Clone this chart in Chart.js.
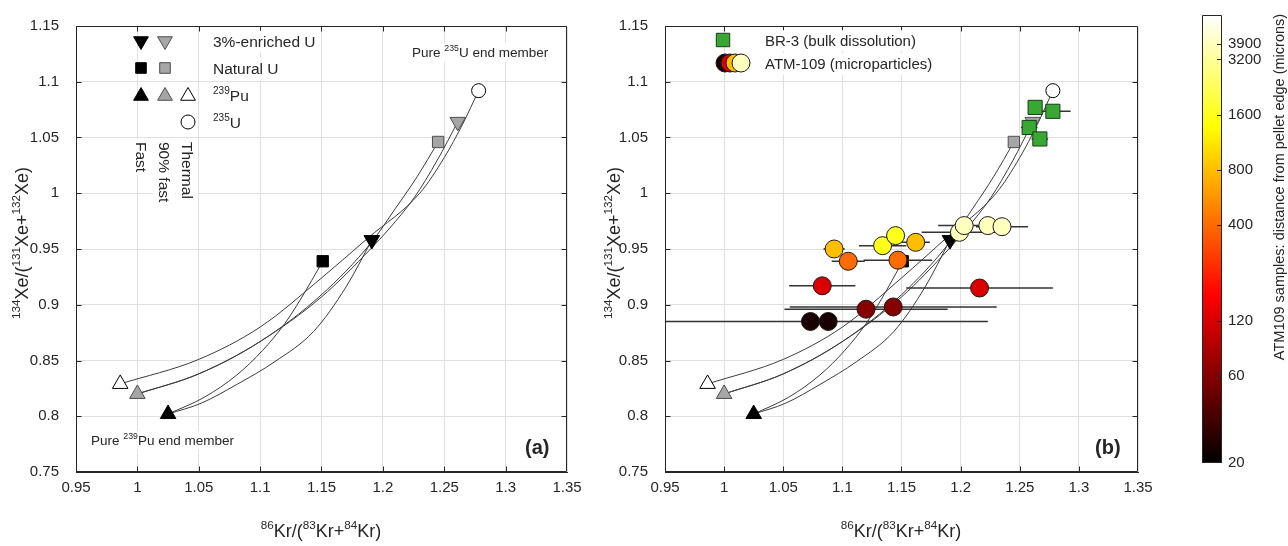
<!DOCTYPE html>
<html lang="en">
<head>
    <meta charset="UTF-8">
    <title>Kr / Xe mixing curves</title>
    <script src="https://cdn.jsdelivr.net/npm/chart.js"></script>
    <style>
        body {
            margin: 0;
            background: #ffffff;
            width: 1288px;
            height: 546px;
            overflow: hidden;
            position: relative;
        }

        .panel {
            position: absolute;
            top: 0;
            height: 546px;
        }
    </style>
</head>
<body>
    <div class="panel" style="left:0;width:600px"><canvas id="chartA"></canvas></div>
    <div class="panel" style="left:600px;width:590px"><canvas id="chartB"></canvas></div>
    <div class="panel" style="left:1180px;width:108px"><canvas id="chartC"></canvas></div>

    <script>
        // axis ticks
        const xTicks = [0.95, 1, 1.05, 1.1, 1.15, 1.2, 1.25, 1.3, 1.35];
        const yTicks = [0.75, 0.8, 0.85, 0.9, 0.95, 1, 1.05, 1.1, 1.15];
        const cbTicks = [20, 60, 120, 400, 800, 1600, 3200, 3900];
        const cbMin = 20;
        const cbMax = 5600;

        // end members (fast, 90% fast, thermal)
        const pu239X = [1.025, 1.000, 0.986];
        const pu239Y = [0.802, 0.820, 0.829];
        const natUX = [1.151, 1.245];
        const natUY = [0.939, 1.046];
        const u3X = [1.191, 1.261];
        const u3Y = [0.958, 1.064];
        const u235X = [1.278];
        const u235Y = [1.092];

        // mixing curves
        const curveThX = [0.986, 1.05, 1.10, 1.15, 1.188, 1.23, 1.25, 1.265, 1.278];
        const curveThY = [0.829, 0.851, 0.880, 0.924, 0.960, 1.000, 1.032, 1.062, 1.092];
        const curve90NatX = [1.000, 1.05, 1.10, 1.15, 1.19, 1.21, 1.228, 1.245];
        const curve90NatY = [0.820, 0.838, 0.867, 0.909, 0.955, 0.986, 1.015, 1.046];
        const curve903X = [1.000, 1.05, 1.10, 1.15, 1.19, 1.205, 1.2255, 1.244, 1.261];
        const curve903Y = [0.820, 0.838, 0.867, 0.907, 0.950, 0.968, 0.996, 1.029, 1.064];
        const curveFastNatX = [1.025, 1.0545, 1.081, 1.102, 1.12, 1.133, 1.151];
        const curveFastNatY = [0.802, 0.817, 0.837, 0.859, 0.883, 0.905, 0.939];
        const curveFast3X = [1.025, 1.052, 1.081, 1.112, 1.1435, 1.17, 1.191];
        const curveFast3Y = [0.802, 0.8117, 0.8285, 0.849, 0.876, 0.916, 0.958];

        // BR-3 bulk dissolution
        const br3X = [1.263, 1.278, 1.258, 1.267];
        const br3Y = [1.077, 1.0735, 1.059, 1.0487];
        const br3Err = [0.004, 0.015, 0.007, 0.007];

        // ATM-109 microparticles
        const atmX = [1.199, 1.203, 1.223, 1.235, 1.134, 1.145, 1.093, 1.162, 1.105, 1.147, 1.083, 1.216, 1.120, 1.143, 1.073, 1.088];
        const atmY = [0.965, 0.971, 0.971, 0.970, 0.953, 0.962, 0.950, 0.956, 0.939, 0.940, 0.917, 0.915, 0.896, 0.898, 0.885, 0.885];
        const atmErr = [0.032, 0.022, 0.005, 0.022, 0.020, 0.008, 0.009, 0.012, 0.014, 0.029, 0.028, 0.062, 0.069, 0.0875, 0.150, 0.0713];
        const atmDist = [3900, 3900, 3900, 3900, 1600, 1600, 800, 800, 400, 400, 120, 120, 60, 60, 25, 25];

        const FONT = "'Liberation Sans', Arial, Helvetica, sans-serif";
        const INK = '#262626';
        const GRAY = '#a6a6a6';
        const GRAY_EDGE = '#4d4d4d';
        const GREEN = '#38a832';
        const TRI_R = 9;
        const SQ_R = 8;

        const pts = (xs, ys) => xs.map((x, i) => ({ x, y: ys[i] }));

        // matlab "hot" colormap
        function hot(f) {
            f = Math.max(0, Math.min(1, f));
            const r = Math.min(1, f / 0.375);
            const g = Math.max(0, Math.min(1, (f - 0.375) / 0.375));
            const b = Math.max(0, (f - 0.75) / 0.25);
            return `rgb(${Math.round(r * 255)},${Math.round(g * 255)},${Math.round(b * 255)})`;
        }
        const distColor = d => hot(Math.log(d / cbMin) / Math.log(cbMax / cbMin));

        // text with superscripts; parts = [[text, isSup], ...], y is the baseline
        function rich(ctx, parts, x, y, size, align, angle, bg) {
            const sup = size * 0.65;
            ctx.save();
            ctx.translate(x, y);
            if (angle) ctx.rotate(angle);
            let w = 0;
            parts.forEach(p => {
                ctx.font = (p[1] ? sup : size) + 'px ' + FONT;
                w += ctx.measureText(p[0]).width;
            });
            let cx = align === 'center' ? -w / 2 : 0;
            if (bg) {
                ctx.fillStyle = '#ffffff';
                ctx.fillRect(cx - 3, -size * 1.05, w + 6, size * 1.4);
            }
            ctx.textBaseline = 'alphabetic';
            ctx.textAlign = 'left';
            ctx.fillStyle = INK;
            parts.forEach(p => {
                ctx.font = (p[1] ? sup : size) + 'px ' + FONT;
                ctx.fillText(p[0], cx, p[1] ? -size * 0.42 : 0);
                cx += ctx.measureText(p[0]).width;
            });
            ctx.restore();
        }

        function mark(ctx, style, x, y, r, fill, stroke) {
            ctx.save();
            ctx.beginPath();
            ctx.fillStyle = fill;
            ctx.strokeStyle = stroke;
            ctx.lineWidth = 1;
            if (style === 'circle') {
                ctx.arc(x, y, r, 0, Math.PI * 2);
            } else if (style === 'rect') {
                const s = r * Math.SQRT1_2;
                ctx.rect(x - s, y - s, 2 * s, 2 * s);
            } else {
                const dir = style === 'tridown' ? -1 : 1;
                for (let k = 0; k < 3; k++) {
                    const a = k * 2 * Math.PI / 3;
                    const px = x + Math.sin(a) * r;
                    const py = y - dir * Math.cos(a) * r;
                    if (k) ctx.lineTo(px, py); else ctx.moveTo(px, py);
                }
                ctx.closePath();
            }
            ctx.fill();
            ctx.stroke();
            ctx.restore();
        }

        function axis(ticks, min, max, isX, fit) {
            return {
                type: 'linear',
                min, max,
                afterBuildTicks: a => { a.ticks = ticks.map(v => ({ value: v })); },
                afterFit: a => { if (isX) a.height = fit; else a.width = fit; },
                grid: { color: '#e0e0e0', drawTicks: false },
                border: { color: INK, width: 1 },
                ticks: {
                    color: INK,
                    font: { family: FONT, size: 15 },
                    padding: isX ? 7 : 17,
                    maxRotation: 0,
                    autoSkip: false,
                    callback: v => String(v)
                }
            };
        }

        function baseSets() {
            const curve = (xs, ys) => ({
                data: pts(xs, ys), showLine: true, borderColor: '#3c3c3c', borderWidth: 1,
                pointRadius: 0, cubicInterpolationMode: 'monotone', fill: false, order: 4
            });
            return [
                curve(curveThX, curveThY),
                curve(curve90NatX, curve90NatY),
                curve(curve903X, curve903Y),
                curve(curveFastNatX, curveFastNatY),
                curve(curveFast3X, curveFast3Y),
                {
                    label: '239Pu', data: pts(pu239X, pu239Y), pointStyle: 'triangle', pointRadius: TRI_R,
                    pointBackgroundColor: ['#000', GRAY, '#fff'], pointBorderColor: ['#000', GRAY_EDGE, '#000'],
                    pointBorderWidth: 1, order: 3
                },
                {
                    label: 'Natural U', data: pts(natUX, natUY), pointStyle: 'rect', pointRadius: SQ_R,
                    pointBackgroundColor: ['#000', GRAY], pointBorderColor: ['#000', GRAY_EDGE],
                    pointBorderWidth: 1, order: 3
                },
                {
                    label: '3%-enriched U', data: pts(u3X, u3Y), pointStyle: 'triangle', pointRotation: 180, pointRadius: TRI_R,
                    pointBackgroundColor: ['#000', GRAY], pointBorderColor: ['#000', GRAY_EDGE],
                    pointBorderWidth: 1, order: 3
                },
                {
                    label: '235U', data: pts(u235X, u235Y), pointStyle: 'circle', pointRadius: 7,
                    pointBackgroundColor: '#fff', pointBorderColor: '#000', pointBorderWidth: 1, order: 3
                }
            ];
        }

        // box around the plot with inward ticks
        const frame = {
            id: 'frame',
            afterDatasetsDraw(chart) {
                const { ctx, chartArea: a, scales } = chart;
                const l = Math.round(a.left) + 0.5, r = Math.round(a.right) - 0.5;
                const t = Math.round(a.top) + 0.5, b = Math.round(a.bottom) - 0.5;
                ctx.save();
                ctx.strokeStyle = INK;
                ctx.lineWidth = 1;
                ctx.beginPath();
                ctx.rect(l, t, r - l, b - t);
                xTicks.slice(1, -1).forEach(v => {
                    const p = Math.round(scales.x.getPixelForValue(v)) + 0.5;
                    ctx.moveTo(p, b); ctx.lineTo(p, b - 5);
                    ctx.moveTo(p, t); ctx.lineTo(p, t + 5);
                });
                yTicks.slice(1, -1).forEach(v => {
                    const p = Math.round(scales.y.getPixelForValue(v)) + 0.5;
                    ctx.moveTo(l, p); ctx.lineTo(l + 5, p);
                    ctx.moveTo(r, p); ctx.lineTo(r - 5, p);
                });
                ctx.stroke();
                ctx.restore();
            }
        };

        // horizontal error bars drawn right before their own dataset
        const errorBars = {
            id: 'errorBars',
            beforeDatasetDraw(chart, args) {
                const ds = chart.data.datasets[args.index];
                if (!ds.xErr) return;
                const { ctx, chartArea: a, scales: { x, y } } = chart;
                ctx.save();
                ctx.beginPath();
                ctx.rect(a.left, a.top, a.right - a.left, a.bottom - a.top);
                ctx.clip();
                ctx.strokeStyle = '#333333';
                ctx.lineWidth = 1.5;
                ctx.beginPath();
                ds.data.forEach((p, i) => {
                    const py = y.getPixelForValue(p.y);
                    ctx.moveTo(x.getPixelForValue(p.x - ds.xErr[i]), py);
                    ctx.lineTo(x.getPixelForValue(p.x + ds.xErr[i]), py);
                });
                ctx.stroke();
                ctx.restore();
            }
        };

        const xTitle = [['86', 1], ['Kr/('], ['83', 1], ['Kr+'], ['84', 1], ['Kr)']];
        const yTitle = [['134', 1], ['Xe/('], ['131', 1], ['Xe+'], ['132', 1], ['Xe)']];

        const textA = {
            id: 'textA',
            afterDraw(chart) {
                const ctx = chart.ctx;
                mark(ctx, 'tridown', 141, 41, 8.5, '#000', '#000');
                mark(ctx, 'tridown', 165, 41, 8.5, GRAY, GRAY_EDGE);
                mark(ctx, 'rect', 141, 68, 7.5, '#000', '#000');
                mark(ctx, 'rect', 165, 68, 7.5, GRAY, GRAY_EDGE);
                mark(ctx, 'tri', 141, 96, 8.5, '#000', '#000');
                mark(ctx, 'tri', 165, 96, 8.5, GRAY, GRAY_EDGE);
                mark(ctx, 'tri', 188, 96, 8.5, '#fff', '#000');
                mark(ctx, 'circle', 188, 122, 7, '#fff', '#000');
                rich(ctx, [['3%-enriched U']], 213, 47, 15.5, 'left', 0, true);
                rich(ctx, [['Natural U']], 213, 74, 15.5, 'left', 0, true);
                rich(ctx, [['239', 1], ['Pu']], 213, 101, 15.5, 'left', 0, true);
                rich(ctx, [['235', 1], ['U']], 213, 128, 15.5, 'left', 0, true);
                rich(ctx, [['Fast']], 135.5, 142, 15.5, 'left', Math.PI / 2, true);
                rich(ctx, [['90% fast']], 158.5, 142, 15.5, 'left', Math.PI / 2, true);
                rich(ctx, [['Thermal']], 181.5, 142, 15.5, 'left', Math.PI / 2, true);

                rich(ctx, [['Pure '], ['235', 1], ['U end member']], 412, 57, 13.5, 'left', 0, true);
                rich(ctx, [['Pure '], ['239', 1], ['Pu end member']], 91, 445, 13.5, 'left', 0, true);

                ctx.save();
                ctx.font = 'bold 20px ' + FONT;
                ctx.fillStyle = INK;
                ctx.fillText('(a)', 525, 454);
                ctx.restore();

                rich(ctx, xTitle, 321, 537, 18, 'center');
                rich(ctx, yTitle, 28, 243, 18, 'center', -Math.PI / 2);
            }
        };

        const textB = {
            id: 'textB',
            afterDraw(chart) {
                const ctx = chart.ctx;
                mark(ctx, 'rect', 123, 40, 9.5, GREEN, '#1e3a1e');
                [25, 120, 800, 3900].forEach((d, i) => {
                    mark(ctx, 'circle', [125, 130, 135, 141][i], 63, 9, distColor(d), '#1a1a1a');
                });
                rich(ctx, [['BR-3 (bulk dissolution)']], 165, 46, 15, 'left', 0, true);
                rich(ctx, [['ATM-109 (microparticles)']], 165, 69, 15, 'left', 0, true);

                ctx.save();
                ctx.font = 'bold 20px ' + FONT;
                ctx.fillStyle = INK;
                ctx.fillText('(b)', 495, 454);
                ctx.restore();

                rich(ctx, xTitle, 301, 537, 18, 'center');
                rich(ctx, yTitle, 20, 243, 18, 'center', -Math.PI / 2);
            }
        };

        const commonOpts = (padRight, yWidth) => ({
            responsive: true,
            maintainAspectRatio: false,
            animation: false,
            events: [],
            layout: { padding: { left: 0, right: padRight, top: 15, bottom: 0 } },
            plugins: { legend: { display: false }, tooltip: { enabled: false } },
            scales: {
                x: axis(xTicks, 0.95, 1.35, true, 74),
                y: axis(yTicks, 0.75, 1.15, false, yWidth)
            }
        });

        new Chart(document.getElementById('chartA'), {
            type: 'scatter',
            data: { datasets: baseSets() },
            options: commonOpts(33, 76),
            plugins: [frame, textA]
        });

        const setsB = baseSets();
        setsB.push({
            label: 'ATM-109 (microparticles)', data: pts(atmX, atmY), xErr: atmErr,
            pointStyle: 'circle', pointRadius: 9,
            pointBackgroundColor: atmDist.map(distColor), pointBorderColor: '#1a1a1a', pointBorderWidth: 1, order: 1
        });
        setsB.push({
            label: 'BR-3 (bulk dissolution)', data: pts(br3X, br3Y), xErr: br3Err,
            pointStyle: 'rect', pointRadius: 10,
            pointBackgroundColor: GREEN, pointBorderColor: '#1e3a1e', pointBorderWidth: 1, order: 0
        });

        new Chart(document.getElementById('chartB'), {
            type: 'scatter',
            data: { datasets: setsB },
            options: commonOpts(52, 65),
            plugins: [frame, errorBars, textB]
        });

        // colour bar
        const colorbar = {
            id: 'colorbar',
            beforeDatasetsDraw(chart) {
                const { ctx, chartArea: a, scales: { y } } = chart;
                const g = ctx.createLinearGradient(0, a.bottom, 0, a.top);
                g.addColorStop(0, '#000000');
                g.addColorStop(0.375, '#ff0000');
                g.addColorStop(0.75, '#ffff00');
                g.addColorStop(1, '#ffffff');
                ctx.save();
                ctx.fillStyle = g;
                ctx.fillRect(a.left, a.top, a.right - a.left, a.bottom - a.top);
                ctx.strokeStyle = INK;
                ctx.lineWidth = 1;
                ctx.beginPath();
                ctx.rect(Math.round(a.left) + 0.5, Math.round(a.top) + 0.5, Math.round(a.right - a.left) - 1, Math.round(a.bottom - a.top) - 1);
                cbTicks.slice(1).forEach(v => {
                    const p = Math.round(y.getPixelForValue(v)) + 0.5;
                    ctx.moveTo(a.right - 1, p);
                    ctx.lineTo(a.right - 5, p);
                });
                ctx.stroke();
                ctx.restore();
                rich(ctx, [['ATM109 samples: distance from pellet edge (microns)']], 104, 187, 14.5, 'center', -Math.PI / 2);
            }
        };

        new Chart(document.getElementById('chartC'), {
            type: 'scatter',
            data: { datasets: [{ data: [] }] },
            options: {
                responsive: true,
                maintainAspectRatio: false,
                animation: false,
                events: [],
                layout: { padding: { left: 22, right: 0, top: 15, bottom: 83 } },
                plugins: { legend: { display: false }, tooltip: { enabled: false } },
                scales: {
                    x: { display: false, min: 0, max: 1 },
                    y: {
                        type: 'logarithmic',
                        position: 'right',
                        min: cbMin,
                        max: cbMax,
                        afterBuildTicks: a => { a.ticks = cbTicks.map(v => ({ value: v })); },
                        afterFit: a => { a.width = 66; },
                        grid: { display: false, drawTicks: false },
                        border: { display: false },
                        ticks: {
                            color: INK,
                            font: { family: FONT, size: 15 },
                            padding: 6,
                            autoSkip: false,
                            callback: v => String(v)
                        }
                    }
                }
            },
            plugins: [colorbar]
        });
    </script>
</body>
</html>
